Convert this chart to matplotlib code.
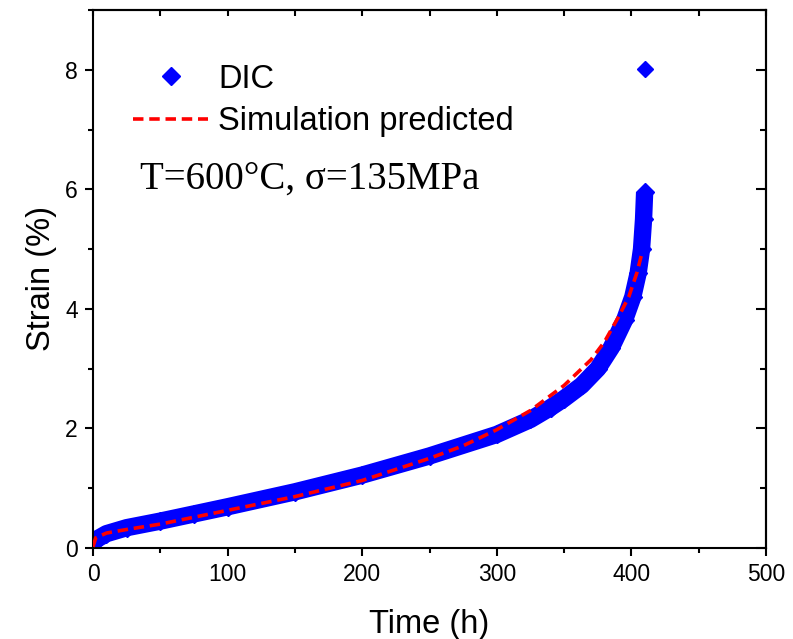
import matplotlib
matplotlib.use("Agg")
import matplotlib.pyplot as plt
from matplotlib.ticker import MultipleLocator

# DIC measured strain (band of diamond markers)
dic_time = [0, 3, 10, 25, 50, 75, 100, 150, 200, 250, 300, 325, 340, 350,
            363, 375, 385, 395, 401, 405, 407.5, 409, 409.8]
dic_strain = [0.08, 0.15, 0.24, 0.34, 0.45, 0.57, 0.69, 0.94, 1.22, 1.54,
              1.90, 2.15, 2.35, 2.50, 2.72, 3.00, 3.35, 3.82, 4.20, 4.60,
              5.00, 5.50, 5.95]
# isolated last DIC reading
dic_last_time = [410]
dic_last_strain = [8.02]

# simulation prediction
sim_time = [0, 2, 10, 25, 50, 100, 150, 200, 250, 275, 300, 325, 350, 370,
            380, 390, 398, 404, 408]
sim_strain = [0.02, 0.17, 0.25, 0.31, 0.40, 0.63, 0.86, 1.13, 1.50, 1.71,
              1.98, 2.30, 2.72, 3.15, 3.45, 3.85, 4.20, 4.60, 4.95]

sans = ["Liberation Sans", "DejaVu Sans"]
serif = ["Liberation Serif", "DejaVu Serif"]
plt.rcParams["font.family"] = sans

blue = "#0000FF"
red = "#FF0000"

fig = plt.figure(figsize=(7.93, 6.39), dpi=100)
ax = fig.add_axes([0.1173, 0.1424, 0.966 - 0.1173, 0.9844 - 0.1424])

# thick band + diamonds for the DIC data
ax.plot(dic_time, dic_strain, color=blue, lw=12.5, solid_capstyle="butt",
        solid_joinstyle="round", zorder=2)
ax.plot(dic_time, dic_strain, ls="none", marker="D", ms=9, color=blue,
        mec=blue, zorder=2)
ax.plot(dic_last_time, dic_last_strain, ls="none", marker="D", ms=8.5,
        color=blue, mec=blue, zorder=2)
dic_handle, = ax.plot([], [], ls="none", marker="D", ms=9, color=blue,
                      label="DIC")
sim_handle, = ax.plot(sim_time, sim_strain, color=red, lw=2.6,
                      dashes=(2.9, 1.6), label="Simulation predicted",
                      zorder=3)

ax.set_xlim(0, 500)
ax.set_ylim(0, 9)
ax.xaxis.set_major_locator(MultipleLocator(100))
ax.xaxis.set_minor_locator(MultipleLocator(50))
ax.yaxis.set_major_locator(MultipleLocator(2))
ax.yaxis.set_minor_locator(MultipleLocator(1))

for sp in ax.spines.values():
    sp.set_linewidth(1.5)

ax.tick_params(which="major", direction="out", length=6, width=1.5,
               labelsize=16.5, pad=5)
ax.tick_params(which="minor", direction="out", length=3.5, width=1.5)

# inward ticks on the top and right sides
top = ax.secondary_xaxis("top")
top.xaxis.set_major_locator(MultipleLocator(100))
top.xaxis.set_minor_locator(MultipleLocator(50))
top.tick_params(which="both", direction="in", length=4, width=1.5,
                labeltop=False)
right = ax.secondary_yaxis("right")
right.yaxis.set_major_locator(MultipleLocator(2))
right.yaxis.set_minor_locator(MultipleLocator(1))
right.tick_params(which="major", direction="in", length=7, width=1.5,
                  labelright=False)
right.tick_params(which="minor", direction="in", length=4, width=1.5)
for sec in (top, right):
    for sp in sec.spines.values():
        sp.set_linewidth(1.5)

ax.set_xlabel("Time (h)", fontsize=23.5, labelpad=16)
ax.set_ylabel("Strain (%)", fontsize=23.5, labelpad=6)

ax.legend(handles=[dic_handle, sim_handle], loc="upper left",
          bbox_to_anchor=(0.06, 0.9), frameon=False, fontsize=23.5,
          handlelength=2.3, handletextpad=0.3, labelspacing=0.35,
          borderpad=0, borderaxespad=0)

ax.text(0.07, 0.668, "T=600°C, σ=135MPa", transform=ax.transAxes,
        fontsize=28, family=serif, va="baseline")

fig.savefig("out.png", dpi=100)
